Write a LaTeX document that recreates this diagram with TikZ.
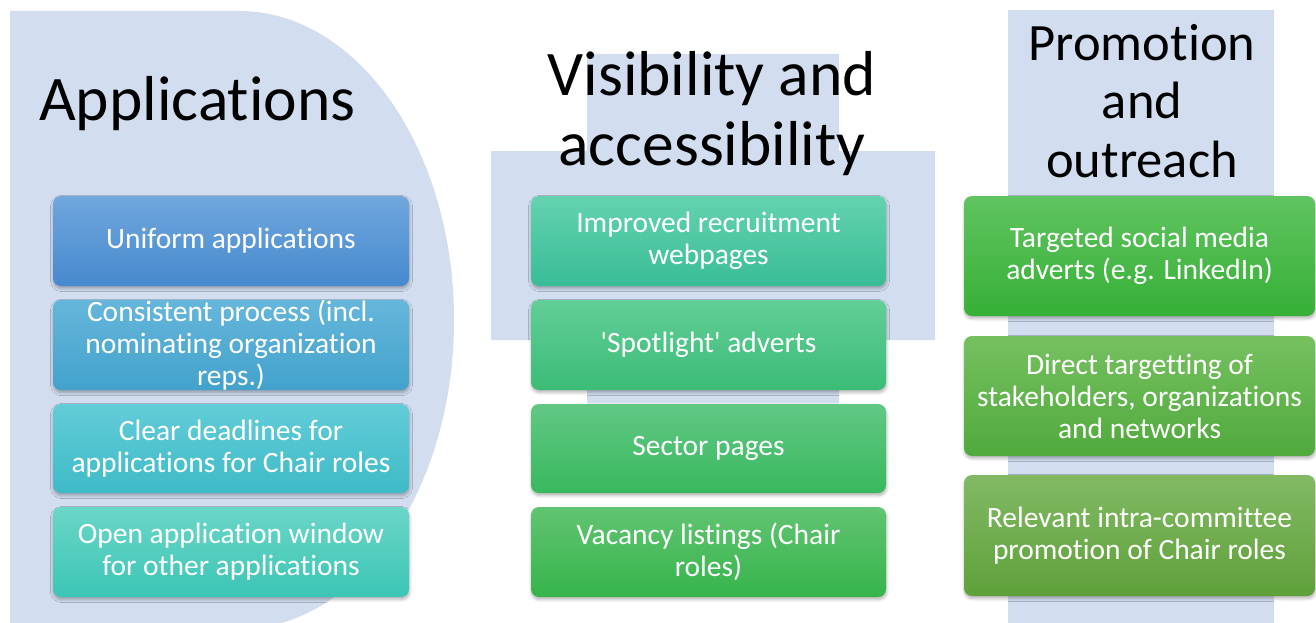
\documentclass[tikz,border=0pt]{standalone}
\usepackage{fontspec}
\setmainfont{Carlito}[Ligatures=TeXOff, RawFeature=-liga, RawFeature=-clig, RawFeature=-calt, RawFeature=-dlig]
\usetikzlibrary{shadows.blur}
\definecolor{bgpanel}{RGB}{210,221,239}
\definecolor{lAt}{RGB}{112,167,221}\definecolor{lAb}{RGB}{70,137,206}
\definecolor{lBt}{RGB}{102,182,219}\definecolor{lBb}{RGB}{66,162,204}
\definecolor{lCt}{RGB}{98,204,216}\definecolor{lCb}{RGB}{62,187,199}
\definecolor{lDt}{RGB}{106,214,200}\definecolor{lDb}{RGB}{60,197,181}
\definecolor{mAt}{RGB}{100,210,176}\definecolor{mAb}{RGB}{57,189,150}
\definecolor{mBt}{RGB}{98,206,152}\definecolor{mBb}{RGB}{59,188,118}
\definecolor{mCt}{RGB}{97,200,132}\definecolor{mCb}{RGB}{57,184,94}
\definecolor{mDt}{RGB}{97,196,114}\definecolor{mDb}{RGB}{54,180,74}
\definecolor{rAt}{RGB}{96,196,96}\definecolor{rAb}{RGB}{54,176,54}
\definecolor{rBt}{RGB}{118,192,96}\definecolor{rBb}{RGB}{80,170,60}
\definecolor{rCt}{RGB}{130,186,100}\definecolor{rCb}{RGB}{94,160,58}
\tikzset{
  panel/.style={fill=bgpanel, draw=none},
  heading/.style={text=black, align=center, inner sep=0pt},
  itembox/.style={rounded corners=8pt, inner sep=0pt, draw=none, text=white,
    align=center, font=\fontsize{29.5}{32}\selectfont,
    blur shadow={shadow xshift=0.5pt, shadow yshift=-2.5pt, shadow blur radius=3pt, shadow opacity=30, shadow blur steps=6}},
  lcol/.style={itembox, minimum width=356pt},
  mcol/.style={itembox, minimum width=355pt},
  rcol/.style={itembox, minimum width=351pt},
  g/.style 2 args={top color=#1, bottom color=#2}
}
\begin{document}
\begin{tikzpicture}[x=1pt,y=-1pt]
\useasboundingbox (0,0) rectangle (1316,623);
\clip (0,0) rectangle (1316,623);
% background panels
\path[panel] (10,11) -- (239,11) arc[start angle=-90, end angle=90, x radius=215, y radius=309] -- (10,629) -- cycle;
\path[panel] (587,54) -- (839,54) -- (839,151) -- (935,151) -- (935,340) -- (839,340) -- (839,403) -- (587,403) -- (587,340) -- (491,340) -- (491,151) -- (587,151) -- cycle;
\path[panel] (1008,10) rectangle (1274,630);
% headings
\node[heading, font=\fontsize{63.5}{70}\selectfont, anchor=base west] (hA) at (39,121) {Applications};
\node[heading, font=\fontsize{63.5}{70}\selectfont, anchor=base] (hV) at (712,165) {Visibility and\\accessibility};
\node[heading, font=\fontsize{52.5}{58.5}\selectfont, anchor=base] (hP) at (1142,177) {Promotion\\and\\outreach};
% left column
\node[lcol, g={lAt}{lAb}, minimum height=90pt] (l1) at (231,241) {Uniform applications};
\node[lcol, g={lBt}{lBb}, minimum height=90pt] (l2) at (231,345) {Consistent process (incl.\\nominating organization\\reps.)};
\node[lcol, g={lCt}{lCb}, minimum height=89pt] (l3) at (231,448.5) {Clear deadlines for\\applications for Chair roles};
\node[lcol, g={lDt}{lDb}, minimum height=90pt] (l4) at (231,552) {Open application window\\for other applications};
% middle column
\node[mcol, g={mAt}{mAb}, minimum height=90pt] (m1) at (708.5,241) {Improved recruitment\\webpages};
\node[mcol, g={mBt}{mBb}, minimum height=90pt] (m2) at (708.5,345) {'Spotlight' adverts};
\node[mcol, g={mCt}{mCb}, minimum height=89pt] (m3) at (708.5,448.5) {Sector pages};
\node[mcol, g={mDt}{mDb}, minimum height=90pt] (m4) at (708.5,552) {Vacancy listings (Chair\\roles)};
% right column
\node[rcol, g={rAt}{rAb}, minimum height=120pt] (r1) at (1139.5,256) {Targeted social media\\adverts (e.g. LinkedIn)};
\node[rcol, g={rBt}{rBb}, minimum height=120pt] (r2) at (1139.5,396) {Direct targetting of\\stakeholders, organizations\\and networks};
\node[rcol, g={rCt}{rCb}, minimum height=121pt] (r3) at (1139.5,535.5) {Relevant intra-committee\\promotion of Chair roles};
\end{tikzpicture}
\end{document}
